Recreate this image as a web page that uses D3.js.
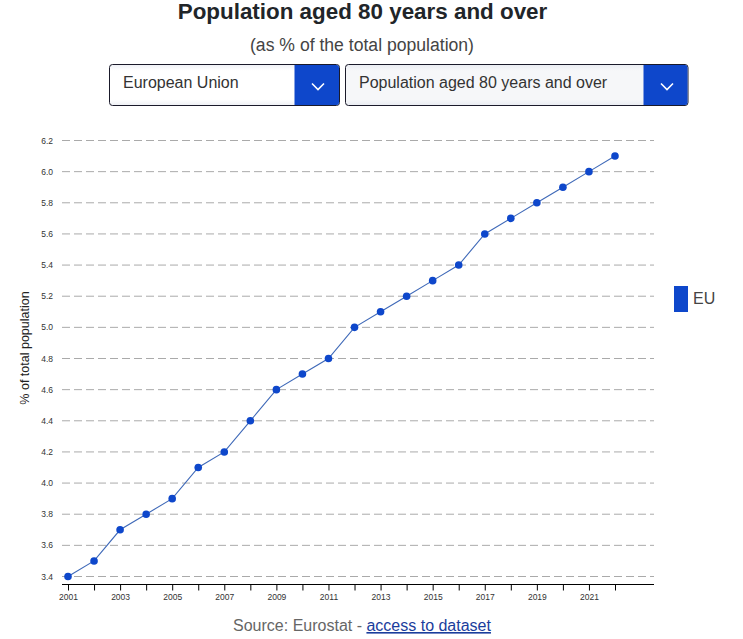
<!DOCTYPE html>
<html>
<head>
<meta charset="utf-8">
<script src="https://cdn.jsdelivr.net/npm/d3@7"></script>
<style>
html, body { margin: 0; padding: 0; background: #fff; overflow: hidden; }
svg { display: block; font-family: "Liberation Sans", Arial, sans-serif; }
</style>
</head>
<body>
<div id="graf"></div>
<script>
const years = d3.range(2001, 2023);
const values = [3.4, 3.5, 3.7, 3.8, 3.9, 4.1, 4.2, 4.4, 4.6, 4.7, 4.8, 5.0, 5.1, 5.2, 5.3, 5.4, 5.6, 5.7, 5.8, 5.9, 6.0, 6.1];
const yTicks = [3.4, 3.6, 3.8, 4.0, 4.2, 4.4, 4.6, 4.8, 5.0, 5.2, 5.4, 5.6, 5.8, 6.0, 6.2];
const dropdownLabels = ["European Union", "Population aged 80 years and over"];
const seriesName = "EU";

const width = 743, height = 639;
const blue = "#0e47cb";

const svg = d3.select("#graf").append("svg")
    .attr("width", width)
    .attr("height", height)
    .attr("viewBox", [0, 0, width, height]);

const defs = svg.append("defs");
const shade = defs.append("linearGradient").attr("id", "shade").attr("x1", 0).attr("x2", 0).attr("y1", 0).attr("y2", 1);
shade.append("stop").attr("offset", "0%").attr("stop-color", "#eef0f5");
shade.append("stop").attr("offset", "15%").attr("stop-color", "#fff");
shade.append("stop").attr("offset", "85%").attr("stop-color", "#fff");
shade.append("stop").attr("offset", "100%").attr("stop-color", "#eef0f5");

const shade2 = defs.append("linearGradient").attr("id", "shade2").attr("x1", 0).attr("x2", 0).attr("y1", 0).attr("y2", 1);
shade2.append("stop").attr("offset", "0%").attr("stop-color", "#e9ecf2");
shade2.append("stop").attr("offset", "15%").attr("stop-color", "#f6f7f9");
shade2.append("stop").attr("offset", "85%").attr("stop-color", "#f6f7f9");
shade2.append("stop").attr("offset", "100%").attr("stop-color", "#e9ecf2");

// header
svg.append("text")
    .attr("x", 362.5).attr("y", 19)
    .attr("text-anchor", "middle")
    .attr("font-size", 22.4).attr("font-weight", "bold")
    .attr("fill", "#212529")
    .text("Population aged 80 years and over");

svg.append("text")
    .attr("x", 362).attr("y", 51)
    .attr("text-anchor", "middle")
    .attr("font-size", 17.6)
    .attr("fill", "#444")
    .text("(as % of the total population)");

// dropdowns
const boxes = [
    {x: 109.5, w: 230, blue: 45, chev: 21.5, fill: "url(#shade)"},
    {x: 345.5, w: 342.5, blue: 44.5, chev: 21, fill: "url(#shade2)"}
];
const dd = svg.append("g").selectAll("g")
    .data(boxes)
    .join("g")
    .attr("transform", d => `translate(${d.x},64.5)`);

dd.append("rect")
    .attr("width", d => d.w).attr("height", 41).attr("rx", 3)
    .attr("fill", d => d.fill)
    .attr("stroke", "#1a1a2a");

dd.append("path")
    .attr("d", d => `M${d.w - d.blue},0.5H${d.w - 3}a2.5,2.5 0 0 1 2.5,2.5V38a2.5,2.5 0 0 1 -2.5,2.5H${d.w - d.blue}Z`)
    .attr("fill", blue);

dd.append("path")
    .attr("d", d => `M${d.w - d.chev - 6},19l6,6l6,-6`)
    .attr("fill", "none")
    .attr("stroke", "#fff")
    .attr("stroke-width", 1.6);

dd.append("text")
    .attr("x", 13.5).attr("y", 23)
    .attr("font-size", 16)
    .attr("fill", "#333")
    .text((d, i) => dropdownLabels[i]);

// scales
const x = d3.scaleLinear().domain([2001, 2022]).range([68, 615]);
const y = d3.scaleLinear().domain([3.4, 6.2]).range([576.5, 140.5]);

// gridlines
svg.append("g").selectAll("line")
    .data(yTicks)
    .join("line")
    .attr("x1", 62).attr("x2", 654)
    .attr("y1", d => y(d)).attr("y2", d => y(d))
    .attr("stroke", "#aaa")
    .attr("stroke-dasharray", "8,4");

// y axis labels
svg.append("g").selectAll("text")
    .data(yTicks)
    .join("text")
    .attr("x", 53)
    .attr("y", d => y(d) + 3)
    .attr("text-anchor", "end")
    .attr("font-size", 8.5)
    .attr("fill", "#333")
    .text(d => d3.format(".1f")(d));

svg.append("text")
    .attr("transform", "translate(29,348) rotate(-90)")
    .attr("text-anchor", "middle")
    .attr("font-size", 12.5)
    .attr("fill", "#222")
    .text("% of total population");

// x axis
const xAxis = svg.append("g")
    .attr("transform", "translate(0,584.5)")
    .call(d3.axisBottom(x)
        .tickValues(years)
        .tickSize(6)
        .tickSizeOuter(0)
        .tickFormat(d => (d - 2001) % 2 === 0 && d < 2022 ? d : ""));
xAxis.select(".domain").remove();
xAxis.append("line").attr("x1", 62).attr("x2", 654).attr("stroke", "#000");
xAxis.selectAll(".tick text")
    .attr("font-family", "\"Liberation Sans\", Arial, sans-serif")
    .attr("font-size", 8.5)
    .attr("fill", "#333")
    .attr("y", 9);

// series
const line = d3.line().x((d, i) => x(years[i])).y(d => y(d));

svg.append("path")
    .datum(values)
    .attr("d", line)
    .attr("fill", "none")
    .attr("stroke", "#3f69b8")
    .attr("stroke-width", 1.1);

svg.append("g").selectAll("circle")
    .data(values)
    .join("circle")
    .attr("cx", (d, i) => x(years[i]))
    .attr("cy", d => y(d))
    .attr("r", 3.8)
    .attr("fill", blue);

// legend
svg.append("rect")
    .attr("x", 674).attr("y", 286)
    .attr("width", 14).attr("height", 26)
    .attr("fill", blue);

svg.append("text")
    .attr("x", 693).attr("y", 304)
    .attr("font-size", 16)
    .attr("fill", "#444")
    .text(seriesName);

// source
const source = svg.append("text")
    .attr("x", 362).attr("y", 631)
    .attr("text-anchor", "middle")
    .attr("font-size", 16)
    .attr("fill", "#666");
source.append("tspan").text("Source: Eurostat - ");
source.append("tspan")
    .attr("fill", "#1a3d9c")
    .attr("text-decoration", "underline")
    .text("access to dataset");
</script>
</body>
</html>
